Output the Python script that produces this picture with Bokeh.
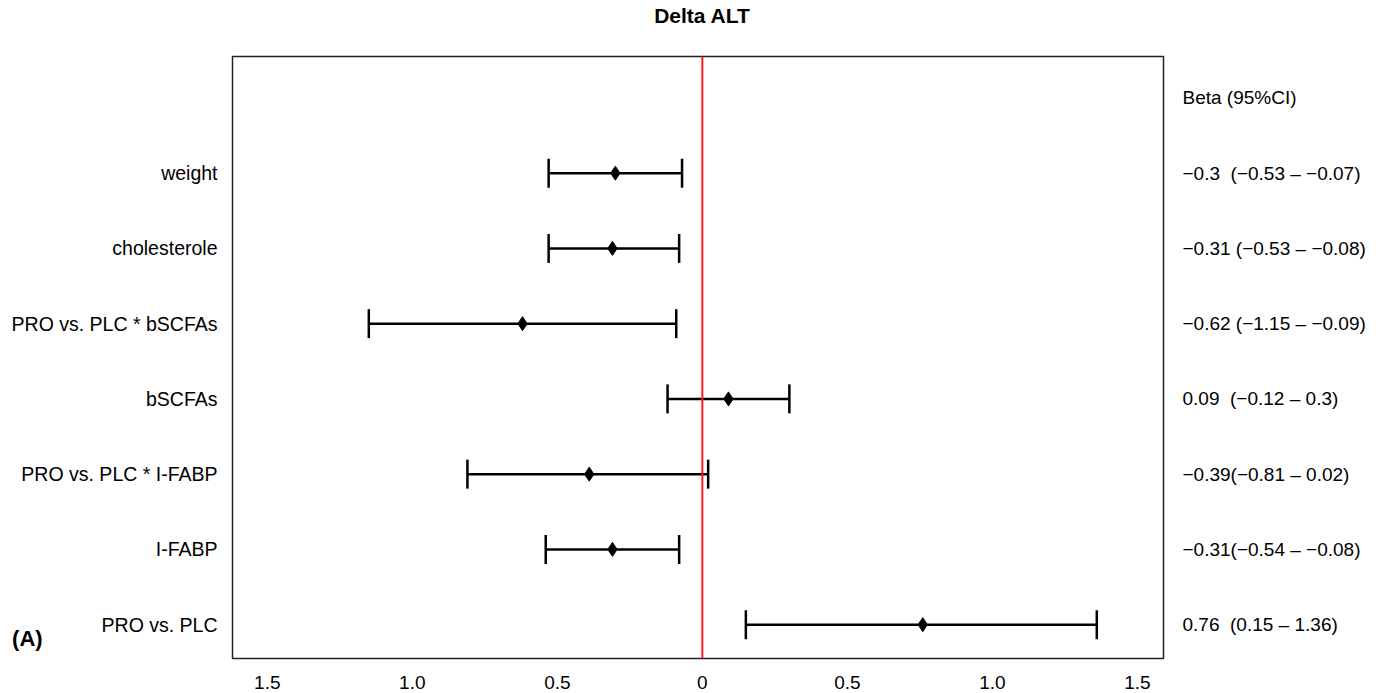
from bokeh.plotting import figure
from bokeh.models import (ColumnDataSource, Whisker, TeeHead, Span,
                          FixedTicker, LinearAxis)
from bokeh.embed import file_html
from bokeh.resources import INLINE

# ---- data (bottom to top) ----
labels = ["PRO vs. PLC", "I-FABP", "PRO vs. PLC * I-FABP", "bSCFAs",
          "PRO vs. PLC * bSCFAs", "cholesterole", "weight"]
beta = [0.76, -0.31, -0.39, 0.09, -0.62, -0.31, -0.30]
lower = [0.15, -0.54, -0.81, -0.12, -1.15, -0.53, -0.53]
upper = [1.36, -0.08, 0.02, 0.30, -0.09, -0.08, -0.07]
ci_header = "Beta (95%CI)"
ci_labels = ["0.76\u00a0\u00a0(0.15 \u2013 1.36)",
             "\u22120.31(\u22120.54 \u2013 \u22120.08)",
             "\u22120.39(\u22120.81 \u2013 0.02)",
             "0.09\u00a0\u00a0(\u22120.12 \u2013 0.3)",
             "\u22120.62 (\u22121.15 \u2013 \u22120.09)",
             "\u22120.31 (\u22120.53 \u2013 \u22120.08)",
             "\u22120.3\u00a0 (\u22120.53 \u2013 \u22120.07)"]
x_ticks = [-1.5, -1.0, -0.5, 0, 0.5, 1.0, 1.5]
x_tick_labels = ["1.5", "1.0", "0.5", "0", "0.5", "1.0", "1.5"]
title_text = "Delta ALT"
panel_tag = "(A)"

rows = list(range(1, len(labels) + 1))
header_row = len(labels) + 1

src = ColumnDataSource(dict(y=rows, beta=beta, lower=lower, upper=upper))

FONT = "Liberation Sans"

p = figure(width=1380, height=693, output_backend="svg", toolbar_location=None,
           x_range=(-1.62, 1.59), y_range=(0.55, header_row + 0.55),
           min_border_left=232, min_border_right=217, min_border_top=56,
           min_border_bottom=35, background_fill_color="white",
           border_fill_color="white")
p.title.visible = False

p.xgrid.visible = False
p.ygrid.visible = False
p.outline_line_color = "#222222"
p.outline_line_width = 1.5

# bottom x axis
xax = p.below[0]
xax.ticker = FixedTicker(ticks=x_ticks)
xax.major_label_overrides = {t: l for t, l in zip(x_ticks, x_tick_labels)}
xax.axis_line_color = None
xax.major_tick_line_color = None
xax.minor_tick_line_color = None
xax.major_label_standoff = 11
xax.major_label_text_font = FONT
xax.major_label_text_font_size = "19px"
xax.major_label_text_color = "black"

# title drawn as a single centred label above the frame
tax = LinearAxis(ticker=FixedTicker(ticks=[0]),
                 major_label_overrides={0: title_text},
                 axis_line_color=None, major_tick_line_color=None,
                 minor_tick_line_color=None, major_label_standoff=24,
                 major_label_text_font=FONT, major_label_text_font_size="21px",
                 major_label_text_font_style="bold",
                 major_label_text_color="black")
p.add_layout(tax, "above")

# left y axis (variable names)
yax = p.left[0]
yax.ticker = FixedTicker(ticks=rows)
yax.major_label_overrides = {r: l for r, l in zip(rows, labels)}
yax.axis_line_color = None
yax.major_tick_line_color = None
yax.minor_tick_line_color = None
yax.major_label_standoff = 9
yax.major_label_text_font = FONT
yax.major_label_text_font_size = "19.5px"
yax.major_label_text_color = "black"
# panel tag "(A)" as the axis label, horizontal, near the bottom
yax.axis_label = panel_tag + "\n"
yax.axis_label_orientation = "horizontal"
yax.axis_label_text_font = FONT
yax.axis_label_text_font_size = "22px"
yax.axis_label_text_font_style = "bold"
yax.axis_label_text_color = "black"
yax.axis_label_text_line_height = 1.6
yax.axis_label_standoff = -34
try:
    yax.axis_label_align = "start"
except Exception:
    pass

# right axis (beta and CI text)
right_ticks = rows + [header_row]
right_labels = ci_labels + [ci_header]
ax = LinearAxis(ticker=FixedTicker(ticks=right_ticks),
                major_label_overrides={r: l for r, l in zip(right_ticks, right_labels)},
                axis_line_color=None, major_tick_line_color=None,
                minor_tick_line_color=None, major_label_standoff=13,
                major_label_text_font=FONT, major_label_text_font_size="19px",
                major_label_text_color="black")
p.add_layout(ax, "right")

# reference line at 0
p.add_layout(Span(location=0, dimension="height", line_color="#ff1a1a",
                  line_width=2))

# CI whiskers
w = Whisker(source=src, base="y", lower="lower", upper="upper",
            dimension="width", line_color="black", line_width=2.5,
            lower_head=TeeHead(size=29, line_color="black", line_width=2.5),
            upper_head=TeeHead(size=29, line_color="black", line_width=2.5))
p.add_layout(w)

p.scatter(x="beta", y="y", source=src, marker="diamond", size=14,
          fill_color="black", line_color="black")

open("out.html", "w").write(file_html(p, INLINE))
